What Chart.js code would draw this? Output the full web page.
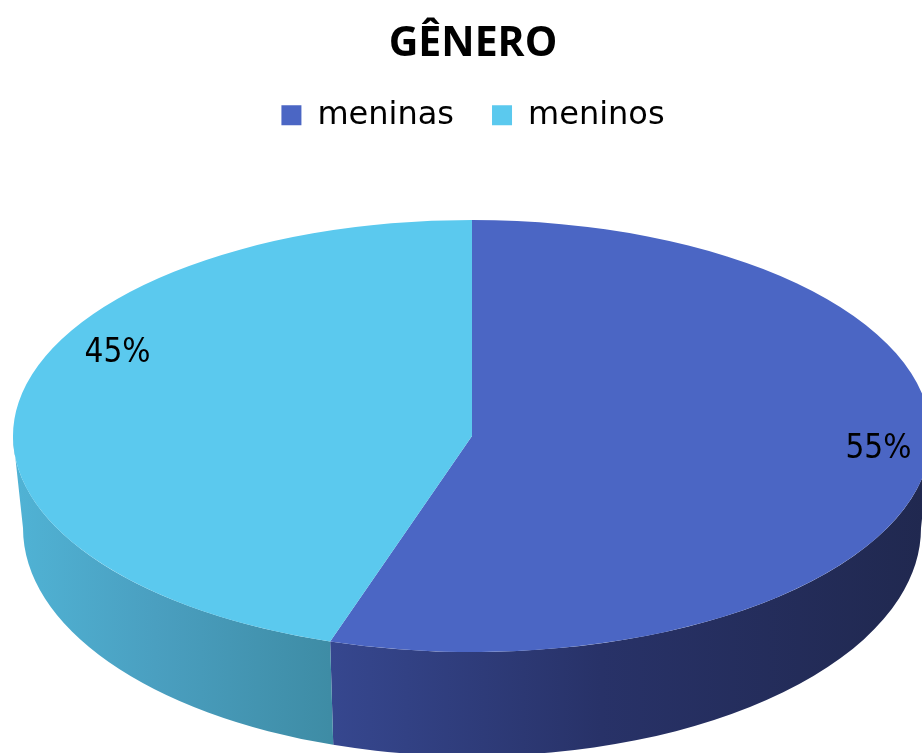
<!DOCTYPE html>
<html>
<head>
<meta charset="utf-8">
<script src="https://cdn.jsdelivr.net/npm/chart.js@4.4.1/dist/chart.umd.min.js"></script>
<style>
  html, body { margin: 0; padding: 0; background: #ffffff; }
  #wrap { width: 922px; height: 753px; overflow: hidden; }
</style>
</head>
<body>
<div id="wrap"><canvas id="c" width="922" height="753"></canvas></div>
<script>
// ---- data ----
const chartTitle = 'GÊNERO';
const categories = ['meninas', 'meninos'];
const values = [55, 45];
const percentLabels = ['55%', '45%'];

// ---- styles ----
const topColors = ['#4B66C4', '#5BC9EE'];
const sideGradients = [
  ['#36478F', '#283268', '#20284F'],
  ['#50B3D5', '#4A9FC0', '#3E8CA5']
];

const pie3d = {
  cx: 472, cy: 436, rx: 459, ry: 216,   // top face ellipse
  bcx: 472, bcy: 528, brx: 449, bry: 228, // bottom rim ellipse
  labelR: 0.87,
  labelNudge: [[12, -16], [40, -53]]
};

const pie3dPlugin = {
  id: 'pie3d',
  beforeDatasetsDraw(chart) {
    const ctx = chart.ctx;
    const meta = chart.getDatasetMeta(0);
    const g = pie3d;
    meta.data.forEach((arc, i) => {
      let s = arc.startAngle, e = arc.endAngle;
      for (let k = -1; k <= 1; k++) {
        const a = Math.max(s + k * 2 * Math.PI, 0);
        const b = Math.min(e + k * 2 * Math.PI, Math.PI);
        if (b <= a) continue;
        const x0 = Math.min(g.cx + g.rx * Math.cos(a), g.cx + g.rx * Math.cos(b));
        const x1 = Math.max(g.cx + g.rx * Math.cos(a), g.cx + g.rx * Math.cos(b));
        const grad = ctx.createLinearGradient(x0, 0, x1, 0);
        const st = sideGradients[i];
        grad.addColorStop(0, st[0]);
        grad.addColorStop(0.45, st[1]);
        grad.addColorStop(1, st[2]);
        ctx.save();
        ctx.beginPath();
        ctx.ellipse(g.cx, g.cy, g.rx, g.ry, 0, a, b, false);
        ctx.lineTo(g.bcx + g.brx * Math.cos(b), g.bcy + g.bry * Math.sin(b));
        ctx.ellipse(g.bcx, g.bcy, g.brx, g.bry, 0, b, a, true);
        ctx.closePath();
        ctx.fillStyle = grad;
        ctx.fill();
        ctx.restore();
      }
    });
    const arc0 = meta.data[0];
    const R = arc0.outerRadius;
    ctx.save();
    ctx.translate(g.cx, g.cy);
    ctx.scale(g.rx / R, g.ry / R);
    ctx.translate(-arc0.x, -arc0.y);
  },
  afterDatasetsDraw(chart) {
    const ctx = chart.ctx;
    ctx.restore();
    const meta = chart.getDatasetMeta(0);
    const g = pie3d;
    ctx.save();
    ctx.font = '33px "DejaVu Sans Condensed", "DejaVu Sans", sans-serif';
    ctx.fillStyle = '#000000';
    ctx.textAlign = 'center';
    ctx.textBaseline = 'middle';
    meta.data.forEach((arc, i) => {
      const mid = (arc.startAngle + arc.endAngle) / 2;
      const x = g.cx + g.rx * g.labelR * Math.cos(mid) + g.labelNudge[i][0];
      const y = g.cy + g.ry * g.labelR * Math.sin(mid) + g.labelNudge[i][1];
      ctx.fillText(percentLabels[i], x, y);
    });
    ctx.restore();
  }
};

new Chart(document.getElementById('c'), {
  type: 'pie',
  data: {
    labels: categories,
    datasets: [{
      data: values,
      backgroundColor: topColors,
      borderWidth: 0,
      clip: false
    }]
  },
  options: {
    responsive: false,
    animation: false,
    events: [],
    layout: { padding: { left: 24, right: 0, top: 20, bottom: 10 } },
    plugins: {
      title: {
        display: true,
        text: chartTitle,
        color: '#000000',
        font: { family: '"Open Sans", "DejaVu Sans", sans-serif', size: 41, weight: 'bold' },
        padding: { top: 0, bottom: -8 }
      },
      legend: {
        display: true,
        position: 'top',
        labels: {
          color: '#000000',
          boxWidth: 20,
          boxHeight: 20,
          padding: 38,
          font: { family: '"DejaVu Sans", sans-serif', size: 32 }
        }
      },
      tooltip: { enabled: false }
    }
  },
  plugins: [pie3dPlugin]
});
</script>
</body>
</html>
